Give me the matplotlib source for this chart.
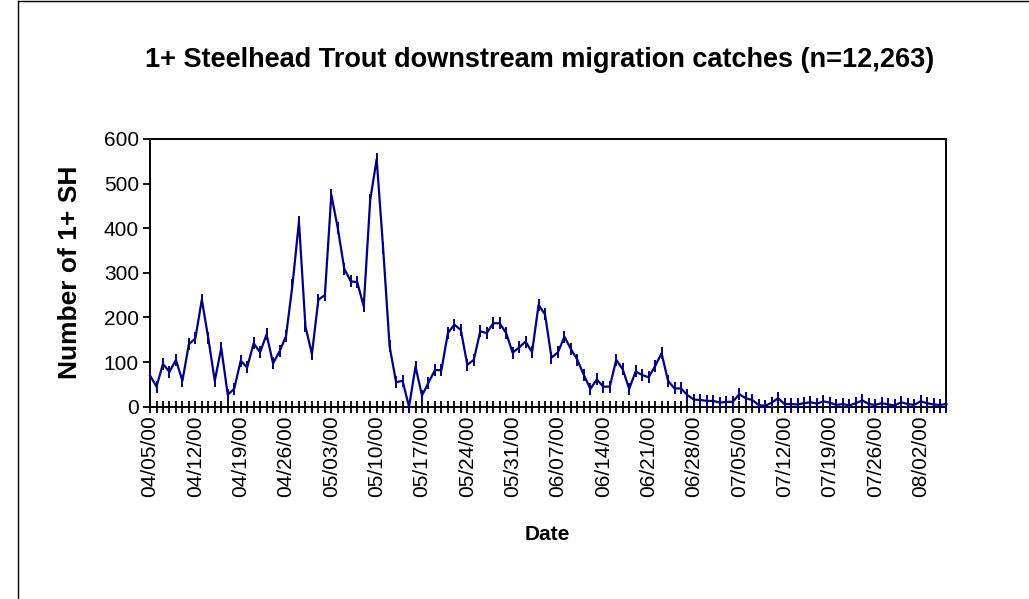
import matplotlib
matplotlib.use("Agg")
import matplotlib.pyplot as plt
from matplotlib.lines import Line2D
import numpy as np
import pandas as pd

plt.rcParams["font.family"] = ["Liberation Sans", "DejaVu Sans"]

# daily catches of 1+ steelhead, 04/05/00 .. 08/06/00
start_date = "2000-04-05"
counts = [
    70, 45, 96, 78, 105, 58, 140, 153, 240, 153,
    58, 132, 27, 40, 103, 88, 142, 122, 162, 97,
    124, 158, 273, 415, 180, 118, 240, 250, 475, 400,
    309, 281, 279, 225, 463, 555, 355, 135, 55, 58,
    0, 90, 25, 54, 82, 82, 165, 184, 172, 94,
    105, 169, 165, 187, 187, 165, 121, 133, 146, 122,
    228, 207, 110, 122, 157, 129, 105, 71, 40, 61,
    45, 45, 105, 84, 40, 79, 71, 66, 91, 120,
    58, 41, 41, 26, 16, 15, 13, 13, 9, 11,
    11, 28, 19, 15, 4, 2, 9, 19, 6, 6,
    5, 8, 10, 7, 12, 9, 4, 6, 3, 8,
    14, 6, 4, 8, 5, 3, 10, 6, 4, 12,
    8, 5, 4, 6,
]
yticks = [0, 100, 200, 300, 400, 500, 600]
label_step = 7

title = "1+ Steelhead Trout downstream migration catches (n=12,263)"
xlabel = "Date"
ylabel = "Number of 1+ SH"

dates = pd.date_range(start_date, periods=len(counts), freq="D")
x = np.arange(len(counts))

fig = plt.figure(figsize=(10.29, 5.99), dpi=100)
ax = fig.add_axes([0.1458, 0.321, 0.774, 0.447])

ax.plot(x, counts, color="#000080", lw=1.6, marker="|", ms=9, mew=1.4,
        clip_on=False, zorder=3)

ax.set_xlim(0, len(counts) - 1)
ax.set_ylim(0, 600)
ax.set_yticks(yticks)
ax.set_xticks(x)
ax.set_xticklabels([d.strftime("%m/%d/%y") if i % label_step == 0 else ""
                    for i, d in enumerate(dates)], rotation=90)

for sp in ax.spines.values():
    sp.set_linewidth(1.4)
ax.tick_params(axis="x", direction="inout", length=9, width=1.3,
               labelsize=15, pad=2)
ax.tick_params(axis="y", direction="out", length=5, width=1.3,
               labelsize=15, pad=3)

fig.text(0.5316, 0.107, xlabel, ha="center", va="center",
         fontsize=15, fontweight="bold")
fig.text(0.068, 0.546, ylabel, ha="center", va="center", rotation=90,
         fontsize=19, fontweight="bold")
fig.text(0.5248, 0.9, title, ha="center", va="center",
         fontsize=19.5, fontweight="bold")

# chart-area border (left and top edges visible)
fig.add_artist(Line2D([0.0175, 0.0175], [0.0, 0.998], color="black", lw=1))
fig.add_artist(Line2D([0.0175, 1.0], [0.998, 0.998], color="black", lw=1))

fig.savefig("out.png", dpi=100)
